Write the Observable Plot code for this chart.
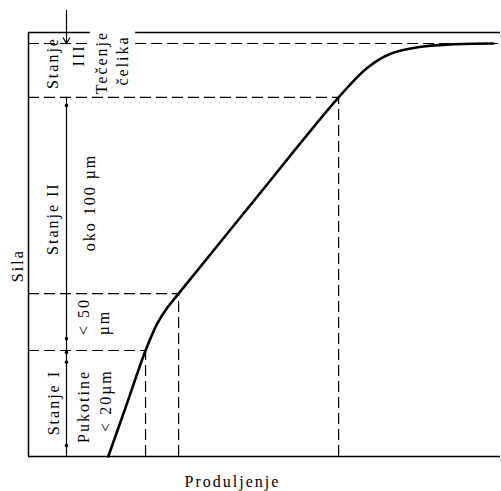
<!DOCTYPE html>
<html><head><meta charset="utf-8">
<script src="https://cdn.jsdelivr.net/npm/d3@7"></script>
<script src="https://cdn.jsdelivr.net/npm/@observablehq/plot@0.6"></script>
<style>
body{margin:0;background:#fff;}
#chart text{letter-spacing:2px;}
</style></head><body><div id="chart"></div>
<script>
// Force–elongation curve (relative units, 0–100)
const curveElong = [16.9, 20.8, 24.8, 27.3, 29.4, 31.8, 48.1, 65.7, 71.8, 76.7, 82.4, 89.4, 98.5];
const curveForce = [0, 12.3, 25.0, 31.4, 35.1, 38.4, 60.8, 84.7, 91.7, 95.0, 96.5, 97.2, 97.4];
// Stage boundaries (force level and elongation where the curve reaches it)
const boundaryForce = [25.0, 38.4, 84.7];
const boundaryElong = [24.8, 31.8, 65.7];
const yieldForce = 97.4;
const dividerElong = 8.05;
const dimMarkers = [2.6, 22.2, 24.5, 27.8, 82.8];
const xLabel = "Produljenje";
const yLabel = "Sila";

const curve = curveElong.map((e, i) => ({e, f: curveForce[i]}));
const bounds = boundaryForce.map((f, i) => ({f, e: boundaryElong[i]}));

const labels = [
  {t: "Stanje", x: 5.1, y: 92.8},
  {t: "III", x: 10.6, y: 94.6},
  {t: "Tečenje", x: 15.5, y: 92.9},
  {t: "čelika", x: 19.9, y: 93.4},
  {t: "Stanje II", x: 5.1, y: 56.1},
  {t: "oko 100 µm", x: 13.1, y: 59.9},
  {t: "< 50", x: 11.7, y: 33.0},
  {t: "µm", x: 15.9, y: 31.6},
  {t: "Stanje I", x: 5.3, y: 12.7},
  {t: "Pukotine", x: 11.7, y: 11.8},
  {t: "< 20µm", x: 16.3, y: 13.2},
  {t: yLabel, x: -2.3, y: 45.0}
];

const dash = "11,5";
const chart = Plot.plot({
  width: 501, height: 491,
  marginLeft: 28, marginRight: 1, marginTop: 32, marginBottom: 35,
  x: {domain: [0, 100], axis: null},
  y: {domain: [0, 100], axis: null},
  style: {fontFamily: "'Liberation Serif', serif", fontSize: "16px", background: "white", color: "black"},
  marks: [
    // frame
    Plot.ruleX([0], {y1: 0, y2: 100, stroke: "black", strokeWidth: 1.5}),
    Plot.ruleY([0], {x1: 0, x2: 100, stroke: "black", strokeWidth: 1.5}),
    Plot.ruleY([{a: 0, b: 13.1}, {a: 22.7, b: 100}], {y: 100, x1: "a", x2: "b", stroke: "black", strokeWidth: 1.3}),
    // yield dashed line
    Plot.ruleY([{a: 0, b: 13.1}, {a: 22.7, b: 99.6}], {y: yieldForce, x1: "a", x2: "b", stroke: "black", strokeWidth: 1.2, strokeDasharray: dash}),
    // boundary dashed lines
    Plot.ruleY(bounds, {y: "f", x1: 0, x2: "e", stroke: "black", strokeWidth: 1.2, strokeDasharray: dash}),
    Plot.ruleX(bounds, {x: "e", y1: 0, y2: "f", stroke: "black", strokeWidth: 1.2, strokeDasharray: dash}),
    // divider
    Plot.ruleX([dividerElong], {y1: 0, y2: boundaryForce[2], stroke: "black", strokeWidth: 1.2}),
    Plot.arrow([{x: dividerElong, y1: 105.2, y2: yieldForce}], {x1: "x", x2: "x", y1: "y1", y2: "y2", stroke: "black", strokeWidth: 1.2, headLength: 8}),
    Plot.dot(dimMarkers, {x: dividerElong, y: d => d, r: 1.8, fill: "black", stroke: null}),
    // curve
    Plot.line(curve, {x: "e", y: "f", curve: "catmull-rom", stroke: "black", strokeWidth: 2.6}),
    // labels
    Plot.text(labels, {x: "x", y: "y", text: "t", rotate: -90, fill: "black", fontSize: 16}),
    Plot.text([xLabel], {x: 43.2, y: -6.1, text: d => d, fill: "black", fontSize: 16})
  ]
});
document.getElementById("chart").append(chart);
</script></body></html>
